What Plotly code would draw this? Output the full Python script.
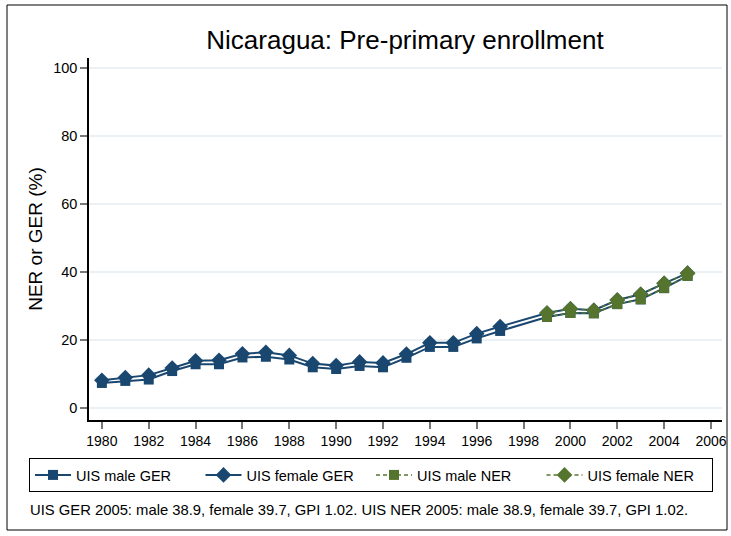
import plotly.graph_objects as go

years_ger = [1980, 1981, 1982, 1983, 1984, 1985, 1986, 1987, 1988, 1989, 1990, 1991, 1992,
             1993, 1994, 1995, 1996, 1997, 1999, 2000, 2001, 2002, 2003, 2004, 2005]
male_ger = [7.4, 8.0, 8.4, 10.9, 12.9, 12.9, 14.9, 15.1, 14.3, 12.0, 11.5, 12.4, 12.0,
            14.8, 18.0, 18.0, 20.5, 22.7, 26.8, 28.0, 27.9, 30.6, 32.0, 35.3, 38.9]
female_ger = [8.2, 9.0, 9.7, 11.8, 13.9, 14.1, 16.0, 16.4, 15.5, 13.1, 12.5, 13.6, 13.3,
              15.9, 19.2, 19.2, 21.9, 24.0, 28.0, 29.2, 28.8, 31.8, 33.5, 36.7, 39.7]
years_ner = [1999, 2000, 2001, 2002, 2003, 2004, 2005]
male_ner = [26.8, 28.0, 27.9, 30.6, 32.0, 35.3, 38.9]
female_ner = [28.0, 29.2, 28.8, 31.8, 33.5, 36.7, 39.7]

x_ticks = list(range(1980, 2007, 2))
y_ticks = [0, 20, 40, 60, 80, 100]

NAVY = "#1a476f"
GREEN = "#55752f"
FONT = "Liberation Sans, Arial, sans-serif"

fig = go.Figure()
fig.add_trace(go.Scatter(x=years_ger, y=male_ger, name="UIS male GER", mode="lines+markers",
                         line=dict(color=NAVY, width=2), marker=dict(symbol="square", size=10, color=NAVY)))
fig.add_trace(go.Scatter(x=years_ger, y=female_ger, name="UIS female GER", mode="lines+markers",
                         line=dict(color=NAVY, width=2), marker=dict(symbol="diamond", size=12, color=NAVY)))
fig.add_trace(go.Scatter(x=years_ner, y=male_ner, name="UIS male NER", mode="lines+markers",
                         line=dict(color=GREEN, width=1.5, dash="4px,3px"), marker=dict(symbol="square", size=10, color=GREEN)))
fig.add_trace(go.Scatter(x=years_ner, y=female_ner, name="UIS female NER", mode="lines+markers",
                         line=dict(color=GREEN, width=1.5, dash="4px,3px"), marker=dict(symbol="diamond", size=12, color=GREEN)))

L, R, T, B = 89, 9, 58, 116
W, H = 731, 536
pw, ph = W - L - R, H - T - B

def px(xpix):
    return (xpix - L) / pw

def py(ypix):
    return (H - B - ypix) / ph

fig.update_layout(
    width=W, height=H,
    margin=dict(l=L, r=R, t=T, b=B, autoexpand=False),
    paper_bgcolor="white", plot_bgcolor="white",
    font=dict(family=FONT, color="#000000", size=14),
    title=dict(text="Nicaragua: Pre-primary enrollment", x=405 / W, xanchor="center",
               y=1 - 40 / H, yanchor="middle", font=dict(size=26)),
    showlegend=True,
    legend=dict(orientation="h", xref="paper", yref="paper",
                x=px(29), xanchor="left", y=py(458), yanchor="top",
                bordercolor="#000000", borderwidth=1, bgcolor="white",
                font=dict(size=14.5), entrywidth=119.5, entrywidthmode="pixels",
                traceorder="normal", itemwidth=36),
    xaxis=dict(range=[1979.45, 2006.47], tickvals=x_ticks, ticks="outside", ticklen=7,
               tickcolor="#777777", tickwidth=1.5, showgrid=False, zeroline=False,
               showline=True, linecolor="#000000", linewidth=1.5, automargin=False,
               tickfont=dict(size=14)),
    yaxis=dict(range=[-3.5, 103], tickvals=y_ticks, ticks="outside", ticklen=7,
               tickcolor="#777777", tickwidth=1.5, showgrid=True, gridcolor="#eaf0f3",
               gridwidth=1.5, zeroline=False, showline=True, linecolor="#000000", linewidth=1.5,
               automargin=False,
               title=dict(text="NER or GER (%)", font=dict(size=19), standoff=5),
               tickfont=dict(size=14.5)),
)

fig.add_shape(type="rect", xref="paper", yref="paper",
              x0=px(7), x1=px(727), y0=py(530), y1=py(5),
              line=dict(color="#000000", width=1), layer="below")

fig.add_annotation(text="UIS GER 2005: male 38.9, female 39.7, GPI 1.02. UIS NER 2005: male 38.9, female 39.7, GPI 1.02.",
                   xref="paper", yref="paper", x=px(28), y=py(510), xanchor="left", yanchor="middle",
                   showarrow=False, font=dict(size=14.8))

fig.write_html("out.html", config={"displayModeBar": False},
               post_script="document.body.style.margin='0px';")
